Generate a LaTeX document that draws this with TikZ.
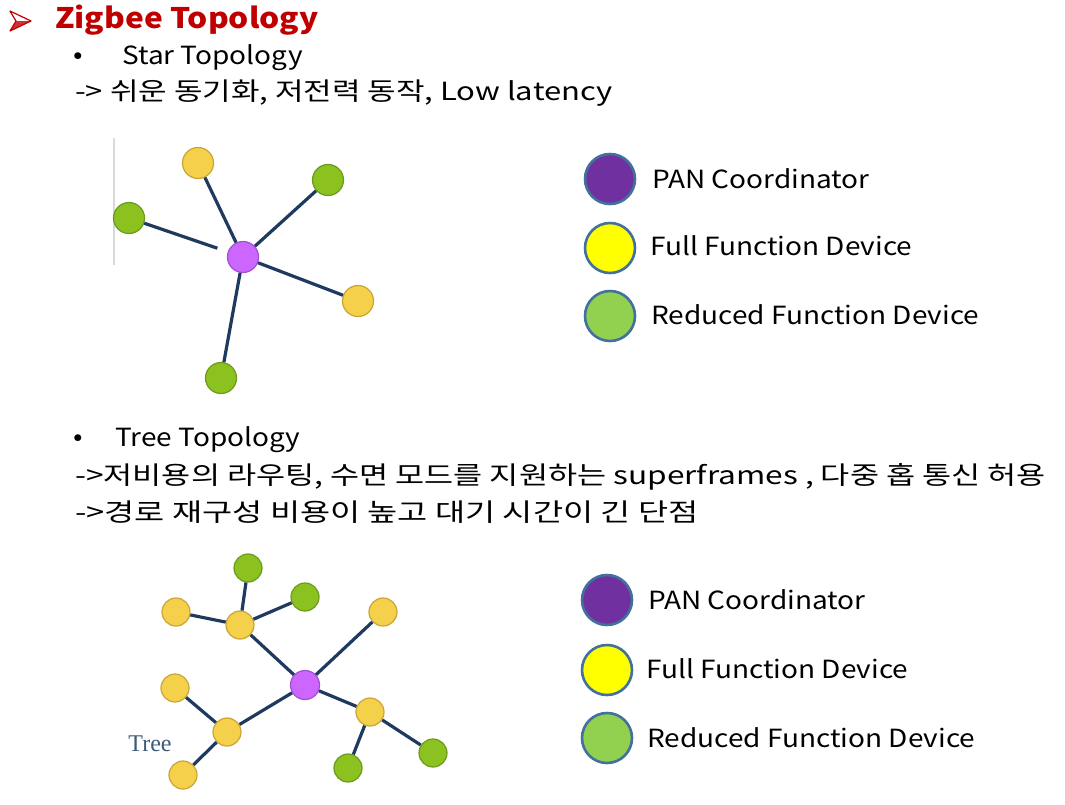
\documentclass[tikz,border=0pt]{standalone}
\usepackage{fontspec}
\setmainfont{Noto Sans CJK KR}[FakeStretch=1.12]
\newfontfamily\krA{Noto Sans CJK KR}[FakeStretch=1.24]
\newfontfamily\krB{Noto Sans CJK KR}[FakeStretch=1.265]
\newfontfamily\krC{Noto Sans CJK KR}[FakeStretch=1.31]
\newfontfamily\serf{Liberation Serif}
\definecolor{titlered}{HTML}{C00000}
\definecolor{edgec}{HTML}{1F3A5F}
\definecolor{gy}{HTML}{F5D04A}
\definecolor{gyd}{HTML}{C9A536}
\definecolor{gg}{HTML}{8CC21F}
\definecolor{ggd}{HTML}{6C9A1E}
\definecolor{gp}{HTML}{CC66FF}
\definecolor{gpd}{HTML}{A050D0}
\definecolor{lp}{HTML}{7030A0}
\definecolor{ly}{HTML}{FFFF00}
\definecolor{lg}{HTML}{92D050}
\definecolor{lo}{HTML}{41719C}
\definecolor{treec}{HTML}{3E5A78}
\tikzset{
  yel/.style={circle,inner sep=0pt,minimum size=28pt,fill=gy,draw=gyd,line width=1.2pt},
  grn/.style={circle,inner sep=0pt,minimum size=28pt,fill=gg,draw=ggd,line width=1.2pt},
  pur/.style={circle,inner sep=0pt,minimum size=29pt,fill=gp,draw=gpd,line width=1.2pt},
  big/.style={minimum size=31pt},
  link/.style={draw=edgec,line width=3.2pt},
  leg/.style={circle,inner sep=0pt,minimum size=50pt,draw=lo,line width=2.6pt},
  legtxt/.style={anchor=west,inner sep=0pt,font=\fontsize{25}{25}\selectfont},
  body/.style={anchor=west,inner sep=0pt,font=\fontsize{25}{25}\selectfont},
}
\begin{document}
\begin{tikzpicture}[x=1pt,y=-1pt]
\useasboundingbox[fill=white] (0,0) rectangle (1065,804);
% header arrowhead bullet
\coordinate (a1) at (10,11);
\coordinate (a2) at (31,21);
\coordinate (a3) at (10,31);
\coordinate (a4) at (16,21);
\fill[white] (a1) -- (a2) -- (a4) -- cycle;
\fill[titlered!80] (a4) -- (a2) -- (a3) -- cycle;
\draw[titlered,line width=1.2pt,line join=round] (a1) -- (a2) -- (a3) -- (a4) -- cycle;
\node[anchor=west,inner sep=0pt,text=titlered,font=\bfseries\fontsize{28.3}{28}\selectfont] (title) at (55,20) {Zigbee Topology};
\node[body] (b1) at (73,58) {•};
\node[body] (star) at (122,58) {Star Topology};
\node[body,font=\krA\fontsize{25}{25}\selectfont] (s1) at (75,93) {-> 쉬운 동기화, 저전력 동작, Low latency};
% star graph
\draw[black!15,line width=1.2pt] (114,138) coordinate (gl1) -- (114,265) coordinate (gl2);
\node[pur,big] (sc) at (243,257) {};
\node[yel,big] (sy1) at (198,163) {};
\node[grn,big] (sg1) at (328,180) {};
\node[grn,big] (sg2) at (129,218) {};
\node[yel,big] (sy2) at (358,301) {};
\node[grn,big] (sg3) at (221,378) {};
\draw[link] (sc) -- (sy1);
\draw[link] (sc) -- (sg1);
\draw[link] (sc) -- (sy2);
\draw[link] (sc) -- (sg3);
\draw[link,shorten >=11pt] (sg2) -- (sc);
% legend 1
\node[leg,fill=lp] (l1p) at (610,179) {};
\node[leg,fill=ly] (l1y) at (610,248) {};
\node[leg,fill=lg] (l1g) at (610,316) {};
\node[legtxt] (t1p) at (652,179) {PAN Coordinator};
\node[legtxt] (t1y) at (650,246) {Full Function Device};
\node[legtxt] (t1g) at (651,315) {Reduced Function Device};
% tree text
\node[body] (b2) at (73,440) {•};
\node[body] (tree) at (115,440) {Tree Topology};
\node[body,font=\krB\fontsize{25}{25}\selectfont] (r1) at (75,477) {->저비용의 라우팅, 수면 모드를 지원하는 superframes , 다중 홉 통신 허용};
\node[body,font=\krC\fontsize{25}{25}\selectfont] (r2) at (75,512) {->경로 재구성 비용이 높고 대기 시간이 긴 단점};
% tree graph
\node[pur] (tc) at (305,685) {};
\node[yel] (h1) at (240,625) {};
\node[grn] (tg1) at (248,568) {};
\node[grn] (tg2) at (305,597) {};
\node[yel] (ty1) at (176,612) {};
\node[yel] (ty2) at (383,612) {};
\node[yel] (ty3) at (175,688) {};
\node[yel] (h2) at (227,732) {};
\node[yel] (ty4) at (183,775) {};
\node[yel] (h3) at (370,712) {};
\node[grn] (tg3) at (348,768) {};
\node[grn] (tg4) at (433,753) {};
\draw[link] (h1) -- (tg1);
\draw[link] (h1) -- (tg2);
\draw[link] (h1) -- (ty1);
\draw[link] (h1) -- (tc);
\draw[link] (tc) -- (ty2);
\draw[link] (tc) -- (h2);
\draw[link] (h2) -- (ty3);
\draw[link] (h2) -- (ty4);
\draw[link] (tc) -- (h3);
\draw[link] (h3) -- (tg3);
\draw[link] (h3) -- (tg4);
\node[anchor=center,inner sep=0pt,text=treec,font=\serf\fontsize{24}{24}\selectfont] (treelbl) at (150,744) {Tree};
% legend 2
\node[leg,fill=lp] (l2p) at (607,600) {};
\node[leg,fill=ly] (l2y) at (607,670) {};
\node[leg,fill=lg] (l2g) at (607,738) {};
\node[legtxt] (t2p) at (648,600) {PAN Coordinator};
\node[legtxt] (t2y) at (646,669) {Full Function Device};
\node[legtxt] (t2g) at (647,738) {Reduced Function Device};
\end{tikzpicture}
\end{document}
